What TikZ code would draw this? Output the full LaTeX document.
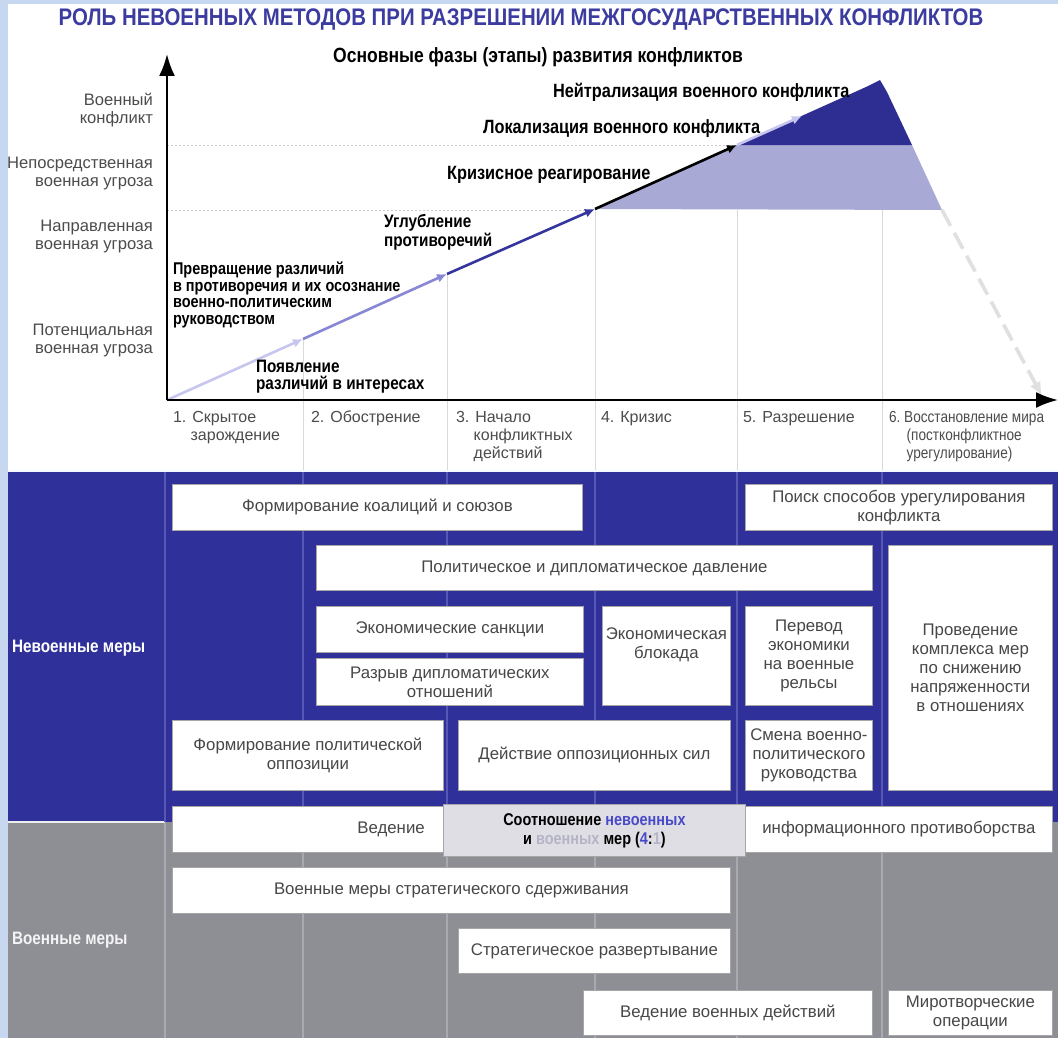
\documentclass[tikz,border=0pt]{standalone}
\usepackage{fontspec}
\setmainfont{Liberation Sans}
\newfontfamily\condfont{Liberation Sans}[FakeStretch=0.85]
\usetikzlibrary{arrows.meta}

\definecolor{framebg}{HTML}{C7D7EF}
\definecolor{titleblue}{HTML}{3C3CA0}
\definecolor{bandblue}{HTML}{30309A}
\definecolor{bandline}{HTML}{5858B4}
\definecolor{bandgray}{HTML}{8E8F95}
\definecolor{grayline}{HTML}{A9AAB0}
\definecolor{segone}{HTML}{C6C6EE}
\definecolor{segtwo}{HTML}{8787D6}
\definecolor{segthree}{HTML}{35359E}
\definecolor{fillcrisis}{HTML}{A9A9D6}
\definecolor{fillwar}{HTML}{2E2E92}
\definecolor{ratiobg}{HTML}{DEDEE4}
\definecolor{ratioblue}{HTML}{4A4AC8}
\definecolor{ratiogray}{HTML}{B4B4C6}

\tikzset{
  levellabel/.style={anchor=east, align=right, font=\fontsize{8.3}{9}\selectfont, text=black!70},
  phaselabel/.style={anchor=north west, align=left, font=\fontsize{8}{9}\selectfont, text=black!70},
  stagelabel/.style={anchor=west, align=left, font=\condfont\bfseries\fontsize{9}{8.5}\selectfont},
  bigstage/.style={stagelabel, font=\condfont\bfseries\fontsize{9.6}{10}\selectfont},
  segment/.style={line width=1.3pt, -{Latex[length=5pt,width=4.5pt]}},
  measure/.style={draw=black!35, fill=white, align=center, inner sep=1pt,
    font=\fontsize{8.4}{9.5}\selectfont, text=black!72},
  divider/.style={black!15, line width=0.5pt},
}

% box from (x1,y1) to (x2,y2) in picture pixels
\newcommand\measbox[6]{%
  \node[measure, anchor=north west, minimum width={(#4-#2)*0.5pt},
    minimum height={(#5-#3)*0.5pt}] (#1) at (#2,#3) {#6};}

\begin{document}
\begin{tikzpicture}[x=0.5pt, y=-0.5pt]
\useasboundingbox (0,0) rectangle (1058,1038);
\clip (0,0) rectangle (1058,1038);
\fill[framebg] (0,0) rectangle (1058,1038);
\fill[white] (8,4) rectangle (1058,470);

% title
\node[font=\condfont\bfseries\fontsize{12}{14}\selectfont, text=titleblue] (title) at (521,20)
  {РОЛЬ НЕВОЕННЫХ МЕТОДОВ ПРИ РАЗРЕШЕНИИ МЕЖГОСУДАРСТВЕННЫХ КОНФЛИКТОВ};
\node[font=\condfont\bfseries\fontsize{10.3}{11}\selectfont] (subtitle) at (538,57)
  {Основные фазы (этапы) развития конфликтов};

% levels and phases
\draw[black!20, dash pattern=on 1pt off 1pt] (167,145) -- (737,145);
\draw[black!20, dash pattern=on 1pt off 1pt] (167,210) -- (595,210);
\draw[divider] (303,338) -- (303,470);
\draw[divider] (447,274) -- (447,470);
\draw[divider] (595,210) -- (595,470);
\draw[divider] (737,210) -- (737,470);
\draw[divider] (882,210) -- (882,470);

% graph
\coordinate (p0) at (167,400);
\coordinate (p1) at (303,339);
\coordinate (p2) at (447,274);
\coordinate (p3) at (595,209);
\coordinate (p4) at (737,145);
\coordinate (p5) at (802,116);
\coordinate (peak) at (880,80);
\coordinate (warend) at (912,145);
\coordinate (crisisend) at (942,210);
\coordinate (peaceend) at (1042,396);

\fill[fillcrisis] (p3) -- (p4) -- (warend) -- (crisisend) -- cycle;
\fill[fillwar] (p4) -- (866,87) -- (peak) -- (887,92) -- (warend) -- cycle;

\draw[segment, segone] (p0) -- (p1);
\draw[segment, segtwo] (p1) -- (p2);
\draw[segment, segthree] (p2) -- (p3);
\draw[segment, black] (p3) -- (p4);
\draw[segment, segone] (p4) -- (p5);
\draw[line width=1.8pt, black!12, dash pattern=on 9pt off 4pt, -{Latex[length=7pt,width=6pt]}] (crisisend) -- (peaceend);

% axes
\coordinate (origin) at (167,400);
\draw[line width=1.2pt, -{Latex[length=11pt,width=8pt]}] (origin) -- (167,54);
\draw[line width=1.2pt, -{Latex[length=11pt,width=8pt]}] (origin) -- (1058,400);

\node[levellabel] (lvlwar) at (160,110) {Военный\\конфликт};
\node[levellabel] (lvldirect) at (160,174) {Непосредственная\\военная угроза};
\node[levellabel] (lvlaimed) at (160,237) {Направленная\\военная угроза};
\node[levellabel] (lvlpotent) at (160,341) {Потенциальная\\военная угроза};

\node[bigstage] (neutral) at (546,92) {Нейтрализация военного конфликта};
\node[bigstage] (local) at (476,129) {Локализация военного конфликта};
\node[bigstage] (react) at (440,175) {Кризисное реагирование};
\node[stagelabel] (deepen) at (377,232) {Углубление\\противоречий};
\node[stagelabel, font=\condfont\bfseries\fontsize{8.5}{8.2}\selectfont] (turn) at (166,295)
  {Превращение различий\\в противоречия и их осознание\\военно-политическим\\руководством};
\node[stagelabel] (appear) at (249,377) {Появление\\различий в интересах};

\node[phaselabel] (ph1) at (166,404) {1. Скрытое\\\hspace{1.1em}зарождение};
\node[phaselabel] (ph2) at (304,404) {2. Обострение};
\node[phaselabel] (ph3) at (449,404) {3. Начало\\\hspace{1.1em}конфликтных\\\hspace{1.1em}действий};
\node[phaselabel] (ph4) at (594,404) {4. Кризис};
\node[phaselabel] (ph5) at (736,404) {5. Разрешение};
\node[phaselabel, font=\condfont\fontsize{8}{9}\selectfont] (ph6) at (882,404)
  {6.\ Восстановление мира\\\hspace{1.1em}(постконфликтное\\\hspace{1.1em}урегулирование)};

% bands
\fill[bandblue] (8,470) rectangle (1058,822);
\fill[bandgray] (8,822) rectangle (1058,1038);
\draw[white!80!framebg, line width=0.8pt] (8,471) -- (1058,471);
\draw[white!85!bandgray, line width=1.2pt] (8,822) -- (165,822);
\foreach \xx in {165,303,447,595,737,882} {
  \draw[bandline, line width=0.6pt] (\xx,472) -- (\xx,822);
  \draw[grayline, line width=0.6pt] (\xx,823) -- (\xx,1038);
}
\node[anchor=west, text=white, font=\condfont\bfseries\fontsize{9}{10}\selectfont] (nonmil) at (5,648) {Невоенные меры};
\node[anchor=west, text=white!90!bandgray, font=\condfont\bfseries\fontsize{9}{10}\selectfont] (mil) at (5,940) {Военные меры};

\measbox{coalition}{172}{484}{582}{530}{Формирование коалиций и союзов}
\measbox{settle}{745}{484}{1052}{530}{Поиск способов урегулирования\\конфликта}
\measbox{pressure}{316}{545}{872}{590}{Политическое и дипломатическое давление}
\measbox{detente}{888}{545}{1052}{790}{Проведение\\комплекса мер\\по снижению\\напряженности\\в отношениях}
\measbox{sanction}{316}{606}{583}{652}{Экономические санкции}
\measbox{rupture}{316}{658}{583}{705}{Разрыв дипломатических\\отношений}
\measbox{blockade}{602}{606}{730}{705}{Экономическая\\блокада\\[3pt]}
\measbox{wareco}{745}{606}{872}{705}{Перевод\\экономики\\на военные\\рельсы}
\measbox{opposition}{172}{720}{443}{790}{Формирование политической\\оппозиции}
\measbox{oppforce}{458}{720}{730}{790}{Действие оппозиционных сил}
\measbox{regime}{745}{720}{872}{790}{Смена военно-\\политического\\руководства}
\measbox{infoleft}{172}{806}{443}{852}{}
\node[anchor=east, font=\fontsize{8.4}{9.5}\selectfont, text=black!72] (infoword) at ([xshift=-6pt]infoleft.east) {Ведение};
\node[measure, fill=ratiobg, anchor=north west, minimum width={(745-443)*0.5pt}, minimum height={(856-804)*0.5pt},
  font=\condfont\bfseries\fontsize{8.5}{9.5}\selectfont, text=black] (ratio) at (443,804)
  {Соотношение \textcolor{ratioblue}{невоенных}\\и \textcolor{ratiogray}{военных} мер (\textcolor{ratioblue}{4}:\textcolor{ratiogray}{1})};
\measbox{inforight}{745}{806}{1052}{852}{информационного противоборства}
\measbox{deterrence}{172}{867}{730}{913}{Военные меры стратегического сдерживания}
\measbox{deploy}{458}{928}{730}{973}{Стратегическое развертывание}
\measbox{combat}{583}{990}{872}{1035}{Ведение военных действий}
\measbox{peacekeep}{888}{990}{1052}{1035}{Миротворческие\\операции}
\end{tikzpicture}
\end{document}
